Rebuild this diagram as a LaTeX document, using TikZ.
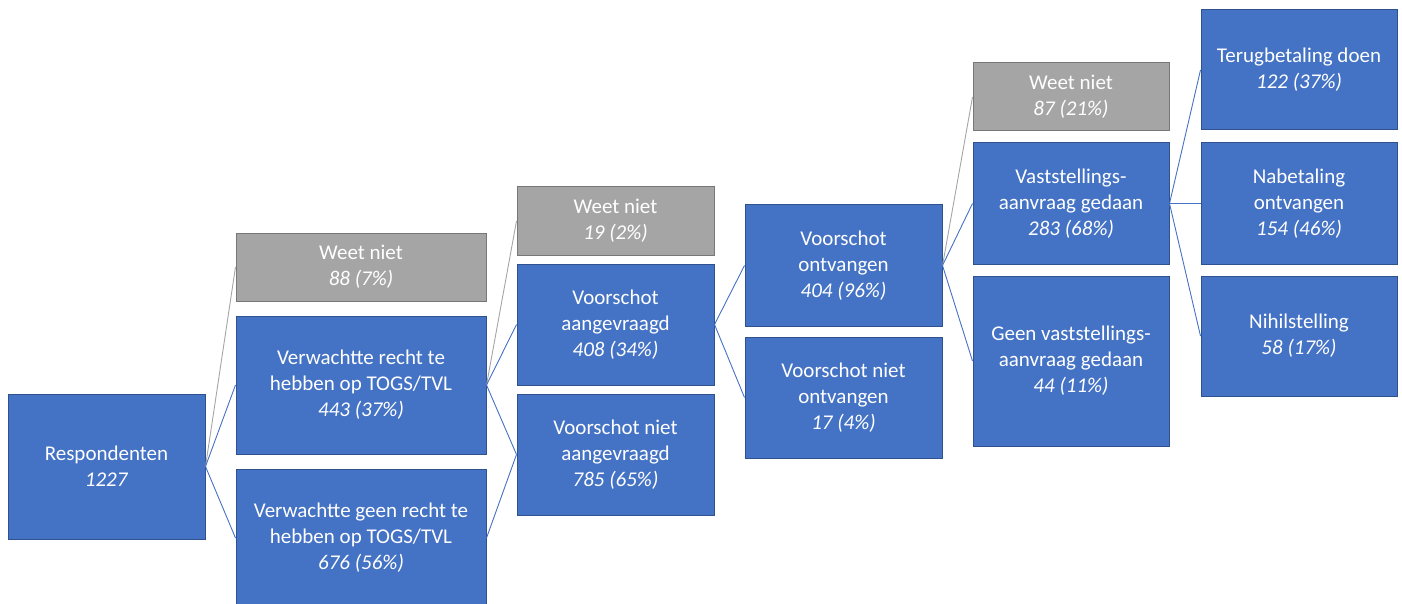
\documentclass[tikz,border=0pt]{standalone}
\usepackage{fontspec}
\setmainfont{Carlito}
\definecolor{boxblue}{HTML}{4472C4}
\definecolor{boxedge}{HTML}{2F528F}
\definecolor{boxgray}{HTML}{A5A5A5}
\definecolor{grayedge}{HTML}{787878}
\tikzset{
  cell/.style={draw=boxedge, fill=boxblue, line width=1pt, text=white,
    align=center, inner sep=0pt, minimum width=197pt, minimum height=121pt,
    font=\fontsize{21}{26}\selectfont},
  unknown/.style={cell, draw=grayedge, fill=boxgray, minimum height=68pt},
  link/.style={draw=boxblue, line width=0.9pt},
  graylink/.style={draw=boxgray, line width=0.9pt}
}
\begin{document}
\begin{tikzpicture}[x=1pt, y=-1pt]
      \useasboundingbox (0,0) rectangle (1402,604);
      \draw
        (106.5,466.5) node[cell, minimum height=145pt] (resp){Respondenten\\\textit{1227}}
        (361,267) node[unknown, minimum width=250pt] (wn1){Weet niet\\\textit{88 (7\%)}}
        (361,385) node[cell, minimum width=250pt, minimum height=138pt] (recht){Verwachtte recht te\\hebben op TOGS/TVL\\\textit{443 (37\%)}}
        (361,538) node[cell, minimum width=250pt, minimum height=138pt] (geen){Verwachtte geen recht te\\hebben op TOGS/TVL\\\textit{676 (56\%)}}
        (615.5,221) node[unknown] (wn2){Weet niet\\\textit{19 (2\%)}}
        (615.5,324.5) node[cell] (aanv){Voorschot\\aangevraagd\\\textit{408 (34\%)}}
        (615.5,454.5) node[cell] (nietaanv){Voorschot niet\\aangevraagd\\\textit{785 (65\%)}}
        (843.5,265.5) node[cell] (ontv){Voorschot\\ontvangen\\\textit{404 (96\%)}}
        (843.5,397.5) node[cell] (nietontv){Voorschot niet\\ontvangen\\\textit{17 (4\%)}}
        (1071,97) node[unknown, minimum width=196pt] (wn3){Weet niet\\\textit{87 (21\%)}}
        (1071,203.5) node[cell, minimum width=196pt] (vast){Vaststellings-\\aanvraag gedaan\\\textit{283 (68\%)}}
        (1071,361) node[cell, minimum width=196pt, minimum height=170pt] (geenvast){Geen vaststellings-\\aanvraag gedaan\\\textit{44 (11\%)}}
        (1299,70) node[cell, minimum width=196pt, minimum height=120pt] (terug){Terugbetaling doen\\\textit{122 (37\%)}}
        (1299,203.5) node[cell, minimum width=196pt] (nabet){Nabetaling\\ontvangen\\\textit{154 (46\%)}}
        (1299,336) node[cell, minimum width=196pt, minimum height=120pt] (nihil){Nihilstelling\\\textit{58 (17\%)}};
      \begin{scope}[link]
        \draw[graylink] (resp.east) to (wn1.west);
        \draw (resp.east) to (recht.west);
        \draw (resp.east) to (geen.west);
        \draw[graylink] (recht.east) to (wn2.west);
        \draw (recht.east) to (aanv.west);
        \draw (recht.east) to (nietaanv.west);
        \draw (geen.east) to (nietaanv.west);
        \draw (aanv.east) to (ontv.west);
        \draw (aanv.east) to (nietontv.west);
        \draw[graylink] (ontv.east) to (wn3.west);
        \draw (ontv.east) to (vast.west);
        \draw (ontv.east) to (geenvast.west);
        \draw (vast.east) to (terug.west);
        \draw (vast.east) to (nabet.west);
        \draw (vast.east) to (nihil.west);
      \end{scope}
    \end{tikzpicture}
\end{document}
